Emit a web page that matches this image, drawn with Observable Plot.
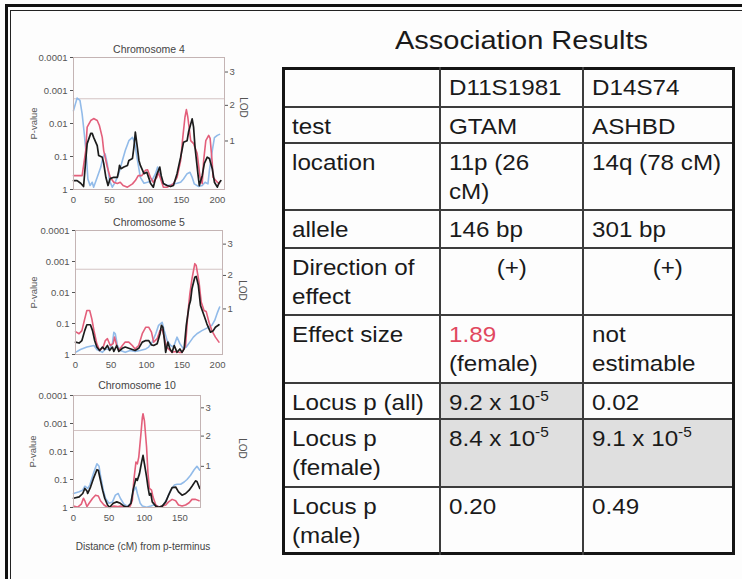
<!DOCTYPE html>
<html>
<head>
<meta charset="utf-8">
<script src="https://cdn.jsdelivr.net/npm/d3@7"></script>
<script src="https://cdn.jsdelivr.net/npm/@observablehq/plot@0.6"></script>
<style>
html,body{margin:0;padding:0;background:#fdfdfd;}
#page{position:relative;width:742px;height:579px;overflow:hidden;background:#fdfdfd;font-family:"Liberation Sans",Arial,Helvetica,sans-serif;color:#1a1a1a;}
.abs{position:absolute;}
.cell{position:absolute;box-sizing:border-box;padding:5px 0 0 9px;font-size:22px;line-height:29px;white-space:nowrap;}
.cell span.t{display:inline-block;transform:scaleX(1.1);transform-origin:0 0;}
.cell.center{text-align:center;padding-left:0;}
.cell.center span.t{transform-origin:50% 0;}
.cell sup{font-size:14px;vertical-align:9px;line-height:0;}
.red{color:#e1485f;}
#title{position:absolute;left:395px;top:28px;font-size:25px;line-height:25px;white-space:nowrap;color:#1a1a1a;}
#title span{display:inline-block;transform:scaleX(1.16);transform-origin:0 0;}
</style>
</head>
<body>
<div id="page"></div>
<script>
// ---------------- DATA ----------------
// P-value axis ticks (left) and LOD axis ticks (right, given as -log10 P positions)
const pTicks = [1, 0.1, 0.01, 0.001, 0.0001];
const pTickLabels = ["1", "0.1", "0.01", "0.001", "0.0001"];
const lodTickNlp = [1.47, 2.55, 3.56];
const lodTickLabels = ["1", "2", "3"];
const thresholdNlp = 2.75;

const chr4Ticks = [0, 50, 100, 150, 200];
const chr5Ticks = [0, 50, 100, 150, 200];
const chr10Ticks = [0, 50, 100, 150];

// series: [cM, -log10 P]
const chr4Red = [[0,0.42],[12,0.42],[17,1.18],[19,1.89],[24,2.09],[28,2.15],[33,2.09],[36,1.94],[40,1.58],[42,1.18],[47,0.68],[51,0.37],[56,0.22],[61,0.18],[65,0.22],[69,0.12],[75,0.07],[82,0.17],[86,0.27],[90,0.42],[95,0.42],[100,0.58],[103,0.6],[107,0.37],[111,0.22],[116,0.37],[118,0.52],[121,0.33],[125,0.07],[130,0.07],[135,0.12],[139,0.18],[144,0.37],[149,0.88],[152,1.58],[155,2.19],[157,2.42],[159,2.19],[163,1.48],[167,1.39],[172,1.09],[176,0.37],[179,0.18],[181,0.88],[184,1.48],[188,1.64],[190,1.55],[193,0.79],[194,0.37],[200,0.22],[203,0.18]];
const chr4Black = [[0,0.27],[5,0.27],[10,0.19],[14,0.09],[17,0.88],[19,1.39],[24,1.7],[26,1.7],[28,1.58],[31,1.43],[33,1.33],[35,1.03],[38,1.0],[40,0.98],[42,0.79],[45,0.37],[48,0.12],[51,0.33],[56,0.37],[61,0.37],[63,0.58],[64,0.73],[66,0.63],[70,0.68],[75,0.73],[77,0.88],[82,0.94],[84,1.28],[86,1.74],[89,1.24],[91,0.88],[93,0.73],[95,0.63],[98,0.48],[102,0.52],[105,0.33],[107,0.19],[111,0.07],[114,0.33],[117,0.52],[120,0.68],[122,0.42],[125,0.18],[130,0.12],[135,0.09],[139,0.12],[144,0.48],[149,0.98],[153,1.43],[158,1.48],[160,1.74],[165,2.14],[167,1.89],[169,1.28],[173,0.48],[175,0.12],[179,0.42],[182,0.79],[186,0.98],[189,0.94],[193,0.63],[196,0.22],[200,0.07],[202,0.18],[205,0.27]];
const chr4Blue = [[0,2.39],[5,2.77],[9,2.7],[12,2.29],[15,1.69],[18,0.98],[20,0.32],[23,0.12],[26,0.22],[28,0.07],[33,0.37],[38,0.68],[41,0.98],[44,1.08],[47,0.78],[50,0.27],[54,0.07],[58,0.22],[63,0.48],[68,0.88],[72,1.18],[77,1.48],[82,1.58],[85,1.43],[89,0.88],[93,0.37],[98,0.19],[103,0.22],[109,0.27],[114,0.48],[117,0.68],[121,0.42],[125,0.17],[132,0.12],[139,0.17],[144,0.19],[149,0.22],[153,0.32],[158,0.48],[162,0.52],[165,0.37],[168,0.17],[174,0.09],[179,0.12],[183,0.22],[187,0.17],[189,0.58],[193,1.18],[196,1.57],[200,1.64],[203,1.67]];

const chr5Red = [[0,0.74],[5,0.67],[9,0.77],[13,1.15],[16,1.42],[20,1.42],[23,1.15],[26,0.77],[30,0.35],[34,0.13],[39,0.24],[42,0.45],[45,0.51],[49,0.29],[53,0.35],[55,0.56],[58,0.29],[61,0.13],[66,0.29],[70,0.4],[75,0.4],[80,0.29],[84,0.18],[89,0.29],[94,0.67],[99,0.88],[103,0.88],[107,0.72],[110,0.4],[115,0.51],[119,0.77],[122,0.81],[125,0.56],[128,0.24],[131,0.18],[136,0.07],[141,0.1],[146,0.07],[150,0.07],[155,0.29],[158,1.26],[161,1.96],[164,2.44],[168,2.93],[170,2.87],[174,2.33],[177,1.69],[181,1.42],[184,1.39],[188,1.04],[192,0.77],[197,0.56],[202,0.4]];
const chr5Black = [[0,0.4],[5,0.37],[9,0.45],[13,0.77],[16,0.96],[21,0.96],[24,0.77],[27,0.45],[30,0.24],[34,0.13],[38,0.24],[41,0.16],[45,0.29],[48,0.13],[52,0.24],[54,0.1],[58,0.29],[61,0.1],[66,0.2],[70,0.24],[75,0.2],[80,0.16],[84,0.13],[89,0.2],[94,0.4],[99,0.45],[103,0.45],[107,0.31],[110,0.29],[115,0.35],[119,0.67],[121,0.94],[123,0.88],[125,0.51],[127,0.07],[130,0.4],[133,0.18],[136,0.07],[139,0.29],[143,0.07],[147,0.18],[150,0.07],[153,0.18],[156,0.94],[160,1.58],[162,1.74],[164,2.12],[168,2.49],[170,2.52],[173,2.23],[176,1.58],[181,1.26],[185,0.99],[190,0.72],[194,0.77],[197,0.88],[202,0.96]];
const chr5Blue = [[0,0.07],[7,0.16],[16,0.24],[26,0.29],[30,0.16],[38,0.07],[42,0.18],[47,0.16],[52,0.35],[54,0.72],[56,0.67],[59,0.29],[63,0.13],[70,0.07],[77,0.13],[84,0.1],[91,0.13],[99,0.18],[103,0.24],[108,0.4],[113,0.67],[117,0.94],[122,1.04],[125,0.77],[129,0.45],[134,0.29],[138,0.24],[143,0.56],[147,0.35],[152,0.18],[156,0.24],[161,0.4],[166,0.56],[171,0.67],[178,0.77],[185,0.85],[192,0.94],[196,1.1],[200,1.36],[203,1.53]];

const chr10Red = [[0,0.05],[6,0.01],[11,0.12],[14,0.33],[16,0.24],[19,0.03],[22,0.15],[27,0.33],[31,0.44],[35,0.41],[38,0.24],[43,0.09],[48,0.01],[52,0],[57,0.05],[62,0.03],[66,0.05],[71,0.01],[76,0.03],[80,0.05],[83,0.27],[85,0.97],[88,1.62],[90,1.56],[92,1.8],[95,2.62],[97,3.21],[98,3.35],[100,3.09],[103,2.15],[105,1.21],[107,0.68],[110,0.62],[112,0.38],[116,0.09],[120,0.01],[125,0.05],[130,0.09],[134,0.2],[139,0.29],[144,0.24],[148,0.09],[153,0.05],[158,0.09],[163,0.17],[167,0.29],[172,0.29],[177,0.24]];
const chr10Black = [[0,0.33],[8,0.38],[13,0.5],[16,0.68],[19,0.59],[20,0.5],[24,0.73],[28,1.03],[33,1.35],[35,1.33],[37,1.09],[41,0.62],[44,0.33],[48,0.09],[51,0.01],[56,0.15],[61,0.2],[66,0.15],[71,0.05],[76,0.01],[81,0.15],[84,0.62],[88,1.03],[90,0.97],[93,1.21],[96,1.62],[98,1.86],[100,1.56],[103,1.09],[105,0.73],[107,0.44],[109,0.5],[111,0.2],[116,0.05],[120,0.01],[125,0.05],[130,0.2],[134,0.44],[139,0.71],[144,0.73],[148,0.56],[153,0.44],[158,0.5],[163,0.62],[167,0.76],[172,0.95],[174,0.93],[178,0.68]];
const chr10Blue = [[0,0.5],[8,0.56],[13,0.62],[16,0.76],[20,0.68],[23,0.8],[28,1.21],[33,1.56],[36,1.47],[38,1.15],[42,0.62],[45,0.33],[50,0.15],[55,0.2],[59,0.44],[63,0.5],[66,0.33],[71,0.12],[76,0.05],[80,0.12],[84,0.56],[88,0.73],[90,0.5],[94,0.15],[97,0.05],[103,0.01],[109,0.05],[113,0.09],[118,0.05],[123,0.01],[127,0.09],[132,0.33],[137,0.62],[142,0.8],[146,0.83],[151,0.83],[156,0.91],[160,1.0],[165,1.15],[170,1.35],[174,1.47],[178,1.33]];

// table
const tableTitle = "Association Results";
const markers = ["D11S1981", "D14S74"];
const rowLabels = ["test", "location", "allele", "Direction of\neffect", "Effect size", "Locus p (all)", "Locus p\n(female)", "Locus p\n(male)"];
const d11Values = ["GTAM", "11p (26\ncM)", "146 bp", "(+)", "1.89\n(female)", "9.2 x 10^-5", "8.4 x 10^-5", "0.20"];
const d14Values = ["ASHBD", "14q (78 cM)", "301 bp", "(+)", "not\nestimable", "0.02", "9.1 x 10^-5", "0.49"];
const highlightValue = "1.89";
const shadedCells = ["6-1", "7-1", "7-2"]; // row-col (row 0 = header)

// ---------------- LAYOUT ----------------
const FONT = '"Liberation Sans", Arial, Helvetica, sans-serif';
const page = d3.select("#page");

function chromPlot(c) {
  const lodP = lodTickNlp.map(v => 10 ** -v);
  const pLabel = new Map(pTicks.map((p, i) => [p, pTickLabels[i]]));
  const toP = d => 10 ** -d[1];
  const line = (data, color, w) => Plot.line(data, {x: d => d[0], y: toP, stroke: color, strokeWidth: w, strokeLinejoin: "round"});
  const marks = [
    Plot.ruleY([10 ** -thresholdNlp], {stroke: "#d3c3c3", strokeWidth: 1}),
    line(c.blue, "#92bbe9", 1.6),
    line(c.red, "#e35f7b", 1.6),
    line(c.black, "#1c1c1c", 1.7),
    Plot.frame({stroke: "#c4b4b4", strokeWidth: 1}),
    Plot.axisY({anchor: "left", ticks: pTicks, tickFormat: d => pLabel.get(d) ?? String(d), tickSize: 3, tickPadding: 3, label: null}),
    Plot.axisY({anchor: "right", ticks: lodP, tickFormat: () => "", tickSize: 3, tickPadding: 2, label: null}),
    Plot.text(lodTickLabels, {y: (d, i) => lodP[i], text: d => d, frameAnchor: "right", textAnchor: "start", lineAnchor: "middle", dx: 5, fill: "#555"}),
    Plot.axisX({ticks: c.xTicks, tickSize: 0, tickPadding: 7, label: null}),
    Plot.text([c.title], {text: d => d, frameAnchor: "top", lineAnchor: "middle", dy: c.titleDy, fontSize: 10.5, fill: "#444"}),
    Plot.text(["P-value"], {text: d => d, frameAnchor: "left", textAnchor: "middle", lineAnchor: "middle", rotate: -90, dx: c.pDx, fontSize: 9.5}),
    Plot.text(["LOD"], {text: d => d, frameAnchor: "right", textAnchor: "middle", lineAnchor: "middle", rotate: 90, dx: c.lodDx, dy: c.lodDy, fontSize: 10})
  ];
  if (c.xLabel) marks.push(Plot.text([c.xLabel], {text: d => d, frameAnchor: "bottom", lineAnchor: "middle", dy: c.xLabelDy, dx: c.xLabelDx, fontSize: 10, fill: "#444"}));
  const svg = Plot.plot({
    width: 250, height: c.height,
    marginLeft: c.ml, marginRight: c.mr, marginTop: c.mt, marginBottom: c.mb,
    x: {domain: [0, c.xMax]},
    y: {type: "log", domain: [1, 1e-4]},
    style: {fontFamily: FONT, fontSize: "9.5px", color: "#555", background: "transparent", overflow: "visible"},
    marks
  });
  svg.style.position = "absolute";
  svg.style.left = "0px";
  svg.style.top = c.top + "px";
  page.node().appendChild(svg);
}

chromPlot({title: "Chromosome 4", red: chr4Red, black: chr4Black, blue: chr4Blue, xTicks: chr4Ticks, xMax: 210,
  top: 0, height: 210, mt: 57, mb: 21, ml: 73, mr: 26, titleDy: -8, pDx: -40, lodDx: 19, lodDy: -16});
chromPlot({title: "Chromosome 5", red: chr5Red, black: chr5Black, blue: chr5Blue, xTicks: chr5Ticks, xMax: 207,
  top: 210, height: 165, mt: 20, mb: 21, ml: 75, mr: 28, titleDy: -8, pDx: -42, lodDx: 20, lodDy: -2});
chromPlot({title: "Chromosome 10", red: chr10Red, black: chr10Black, blue: chr10Blue, xTicks: chr10Ticks, xMax: 179,
  top: 375, height: 185, mt: 20, mb: 53, ml: 73, mr: 50, titleDy: -10, pDx: -41, lodDx: 42, lodDy: -3,
  xLabel: "Distance (cM) from p-terminus", xLabelDy: 39, xLabelDx: 6});

// ---- table ----
page.append("div").attr("id", "title").append("span").text(tableTitle);

const colEdges = [283, 440, 583, 733];
const rowEdges = [68, 107, 143, 210, 248, 315, 383, 419, 487, 553];
const rows = [["", ...markers]].concat(rowLabels.map((l, i) => [l, d11Values[i], d14Values[i]]));
const shaded = new Set(shadedCells);

function fmt(s) {
  return s.split("\n").map(part => {
    let h = part.replace(/&/g, "&amp;").replace(/</g, "&lt;");
    h = h.replace(/\^(-?\d+)/, "<sup>$1</sup>");
    if (part === highlightValue) h = `<span class="red">${h}</span>`;
    return h;
  }).join("<br>");
}

rows.forEach((row, r) => {
  row.forEach((val, c) => {
    const x0 = colEdges[c], x1 = colEdges[c + 1], y0 = rowEdges[r], y1 = rowEdges[r + 1];
    const div = page.append("div").attr("class", "cell" + (val === "(+)" ? " center" : ""))
      .style("left", x0 + "px").style("top", y0 + "px")
      .style("width", (x1 - x0) + "px").style("height", (y1 - y0) + "px")
      .style("background", shaded.has(r + "-" + c) ? "#dfdfdf" : "transparent");
    if (val === "(+)" && c === 2) div.style("padding-left", "20px");
    div.append("span").attr("class", "t").html(fmt(val));
  });
});
// grid lines
rowEdges.forEach((y, i) => {
  const outer = i === 0 || i === rowEdges.length - 1;
  const w = outer ? 3 : 2;
  page.append("div").attr("class", "abs")
    .style("left", (colEdges[0] - 1.5) + "px").style("top", (y - w / 2) + "px")
    .style("width", (colEdges[3] - colEdges[0] + 3) + "px").style("height", w + "px")
    .style("background", outer ? "#151515" : "#3c3c3c");
});
colEdges.forEach((x, i) => {
  const outer = i === 0 || i === colEdges.length - 1;
  const w = outer ? 3 : 2;
  page.append("div").attr("class", "abs")
    .style("left", (x - w / 2) + "px").style("top", (rowEdges[0] - 1.5) + "px")
    .style("width", w + "px").style("height", (rowEdges[rowEdges.length - 1] - rowEdges[0] + 3) + "px")
    .style("background", outer ? "#151515" : "#3c3c3c");
});

// ---- slide frame (double rule) ----
function bar(l, t, w, h, col) {
  page.append("div").attr("class", "abs").style("left", l + "px").style("top", t + "px")
    .style("width", w + "px").style("height", h + "px").style("background", col);
}
bar(5, 4, 3, 600, "#111");
bar(5, 4, 760, 3, "#111");
bar(10, 10, 1, 600, "#222");
bar(10, 10, 760, 1, "#222");
</script>
</body>
</html>
